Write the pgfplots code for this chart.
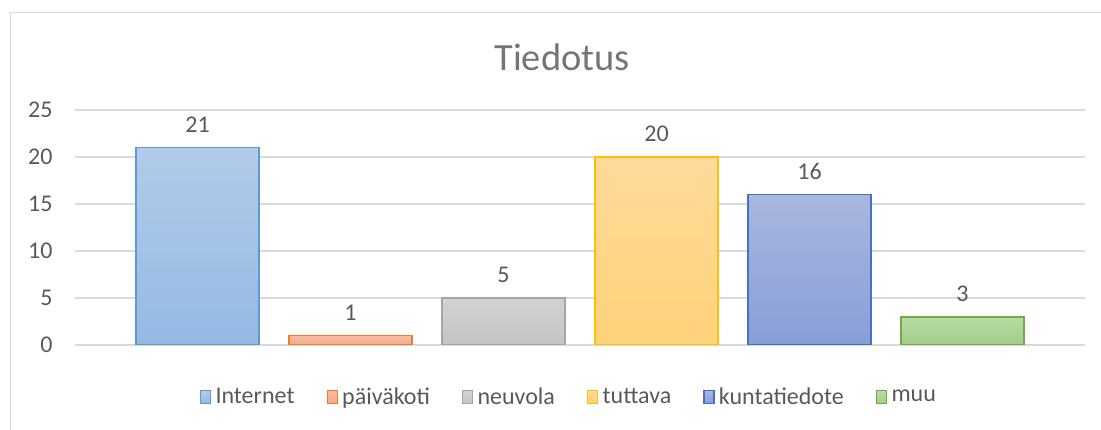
\documentclass[border=0pt]{standalone}
\usepackage{fontspec}
\setmainfont{Carlito}
\usepackage{pgfplots}
\pgfplotsset{compat=1.18}
\definecolor{gridc}{HTML}{D9D9D9}
\definecolor{txt}{HTML}{595959}
\definecolor{ttl}{HTML}{757575}
\definecolor{b1}{HTML}{5B9BD5}
\definecolor{b2}{HTML}{ED7D31}
\definecolor{b3}{HTML}{A5A5A5}
\definecolor{b4}{HTML}{FFC000}
\definecolor{b5}{HTML}{4472C4}
\definecolor{b6}{HTML}{70AD47}
\definecolor{t1}{HTML}{B1CBE9}\definecolor{u1}{HTML}{94B9E4}
\definecolor{t2}{HTML}{F7BDA2}\definecolor{u2}{HTML}{F5AA85}
\definecolor{t3}{HTML}{D2D2D2}\definecolor{u3}{HTML}{C4C4C4}
\definecolor{t4}{HTML}{FFDA9A}\definecolor{u4}{HTML}{FFD27A}
\definecolor{t5}{HTML}{A9B7DF}\definecolor{u5}{HTML}{879ED6}
\definecolor{t6}{HTML}{BADBA5}\definecolor{u6}{HTML}{A0CC86}
\begin{document}
\begin{tikzpicture}[x=1pt,y=1pt]
\useasboundingbox (0,0) rectangle (1101,430);
\draw[gridc, line width=1.5pt] (10.5,0) -- (10.5,417.5) -- (1101,417.5);
\node[text=ttl, font=\fontsize{38.5}{42}\selectfont] at (562,373) {Tiedotus};
\begin{axis}[
  at={(75pt,85pt)}, anchor=south west,
  scale only axis, width=1010pt, height=235pt,
  xmin=-0.8007, xmax=5.8007, ymin=0, ymax=25,
  xtick=\empty, ytick={0,5,10,15,20,25},
  ymajorgrids, major grid style={gridc, line width=1.3pt},
  axis line style={draw=none}, tick style={draw=none},
  /pgf/number format/assume math mode=true,
  yticklabel style={text=txt, font=\fontsize{24}{28}\selectfont, xshift=-19pt},
  nodes near coords,
  every node near coord/.append style={text=txt, font=\fontsize{24}{28}\selectfont, yshift=11pt, /pgf/number format/assume math mode=true},
  legend columns=6,
  legend style={draw=none, fill=none, at={(0.489,-0.221)}, anchor=center,
    font=\fontsize{24}{28}\selectfont, text=txt,
    nodes={inner xsep=2pt},
    /tikz/every even column/.append style={column sep=30pt}},
  legend image code/.code={\draw[#1, line width=1.3pt] (0pt,-6.5pt) rectangle (10pt,6.5pt);
    \pgfpathrectangle{\pgfpoint{0pt}{-6.5pt}}{\pgfpoint{13pt}{13pt}}\pgfusepath{use as bounding box}},
]
\addplot[ybar, bar width=123pt, bar shift=0pt, draw=b1, line width=1.5pt, top color=t1, bottom color=u1] coordinates {(0,21)};
\addlegendentry{Internet}
\addplot[ybar, bar width=123pt, bar shift=0pt, draw=b2, line width=1.5pt, top color=t2, bottom color=u2] coordinates {(1,1)};
\addlegendentry{päiväkoti}
\addplot[ybar, bar width=123pt, bar shift=0pt, draw=b3, line width=1.5pt, top color=t3, bottom color=u3] coordinates {(2,5)};
\addlegendentry{neuvola}
\addplot[ybar, bar width=123pt, bar shift=0pt, draw=b4, line width=1.5pt, top color=t4, bottom color=u4] coordinates {(3,20)};
\addlegendentry{tuttava}
\addplot[ybar, bar width=123pt, bar shift=0pt, draw=b5, line width=1.5pt, top color=t5, bottom color=u5] coordinates {(4,16)};
\addlegendentry{kuntatiedote}
\addplot[ybar, bar width=123pt, bar shift=0pt, draw=b6, line width=1.5pt, top color=t6, bottom color=u6] coordinates {(5,3)};
\addlegendentry{muu}
\end{axis}
\end{tikzpicture}
\end{document}
